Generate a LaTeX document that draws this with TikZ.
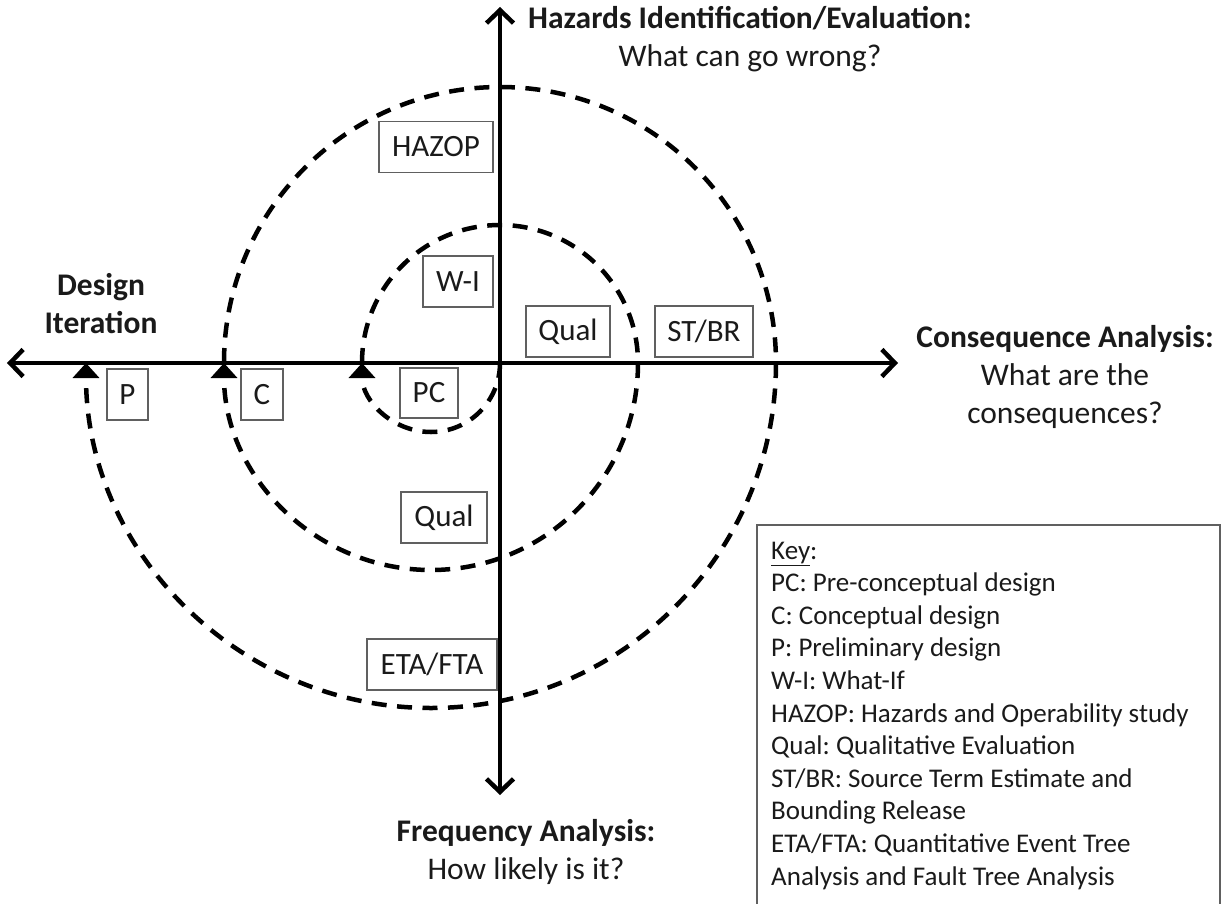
\documentclass[tikz,border=0pt]{standalone}
\usepackage{fontspec}
\setmainfont{Carlito}
\usetikzlibrary{arrows.meta}
\definecolor{framegray}{HTML}{606060}
\definecolor{inkblack}{HTML}{1A1A1A}
\frenchspacing
\begin{document}
\begin{tikzpicture}[x=1pt,y=1pt,
  axis/.style={line width=4.5pt, {Straight Barb[length=13pt,width=27pt]}-{Straight Barb[length=13pt,width=27pt]}},
  spiral/.style={line width=4.5pt, dash pattern=on 15pt off 10.5pt},
  spiraltip/.style={-{Triangle[length=15pt,width=26pt]}},
  tag/.style={draw=framegray, line width=1.5pt, text=inkblack, inner sep=0pt,
    minimum height=51pt, font=\fontsize{31}{36}\selectfont},
  heading/.style={align=center, text=inkblack, inner sep=0pt, font=\fontsize{31.5}{38}\selectfont},
  keyline/.style={anchor=base west, inner sep=0pt, text=inkblack, font=\fontsize{27}{32}\selectfont},
  keyframe/.style={draw=framegray, line width=1.5pt, inner sep=0pt}
]
\useasboundingbox (-500,-540) rectangle (725,363);

% axes
\coordinate (O) at (0,0);
\coordinate (W) at (-493,0);
\coordinate (E) at (398,0);
\coordinate (N) at (0,356);
\coordinate (S) at (0,-432);
\draw[axis] (W) -- (E);
\draw[axis] (S) -- (N);

% spiral of half circles, growing outwards
\coordinate (a1) at (-138,0);
\coordinate (a2) at (138,0);
\coordinate (a3) at (-276,0);
\coordinate (a4) at (276,0);
\draw[spiral, spiraltip] (O) arc[start angle=0, end angle=-180, radius=69];
\draw[spiral] (a1) arc[start angle=180, end angle=0, radius=138];
\draw[spiral, spiraltip] (a2) arc[start angle=0, end angle=-180, radius=207];
\draw[spiral] (a3) arc[start angle=180, end angle=0, radius=276];
\draw[spiral, spiraltip] (a4) arc[start angle=0, end angle=-180, radius=345];

% method and stage boxes
\node[tag, minimum width=114pt] (hazop) at (-64,216) {HAZOP};
\node[tag, minimum width=70pt] (wi) at (-42,81.5) {W-I};
\node[tag, minimum width=84pt] (qualA) at (68,31.5) {Qual};
\node[tag, minimum width=98pt] (stbr) at (204,31.5) {ST/BR};
\node[tag, minimum width=41pt] (p) at (-372.5,-31.5) {P};
\node[tag, minimum width=42pt] (c) at (-238,-31.5) {C};
\node[tag, minimum width=58pt, minimum height=50pt] (pc) at (-71,-30) {PC};
\node[tag, minimum width=86pt] (qualB) at (-56,-154.5) {Qual};
\node[tag, minimum width=130pt] (etafta) at (-68,-301.5) {ETA/FTA};

% axis headings
\node[heading] (hz) at (250,324) {\textbf{Hazards Identification/Evaluation:}\\What can go wrong?};
\node[heading] (di) at (-399,59) {\textbf{Design}\\\textbf{Iteration}};
\node[heading] (ca) at (565,-14) {\textbf{Consequence Analysis:}\\What are the\\consequences?};
\node[heading] (fa) at (26,-489) {\textbf{Frequency Analysis:}\\How likely is it?};

% key
\node[keyframe, minimum width=463pt, minimum height=398pt] (keybox) at (488.5,-361) {};
\foreach \t [count=\i from 0] in {%
  \underline{Key}:,
  PC: Pre-conceptual design,
  C: Conceptual design,
  P: Preliminary design,
  W-I: What-If,
  HAZOP: Hazards and Operability study,
  Qual: Qualitative Evaluation,
  ST/BR: Source Term Estimate and,
  Bounding Release,
  ETA/FTA: Quantitative Event Tree,
  Analysis and Fault Tree Analysis}
  \node[keyline] (k\i) at (271,-196-32.6*\i) {\t};
\end{tikzpicture}
\end{document}
